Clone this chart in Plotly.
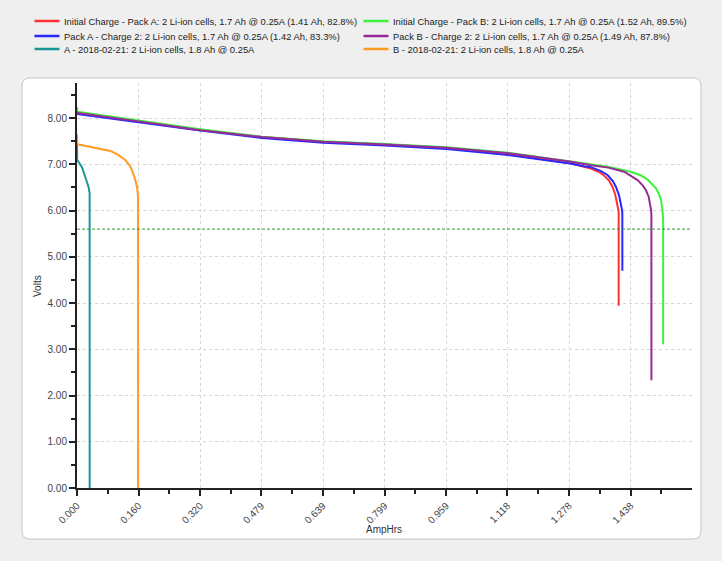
import plotly.graph_objects as go

# ---------------- data ----------------
SERIES_NAMES = [
    "Initial Charge - Pack A: 2 Li-ion cells, 1.7 Ah @ 0.25A (1.41 Ah, 82.8%)",
    "Initial Charge - Pack B: 2 Li-ion cells, 1.7 Ah @ 0.25A (1.52 Ah, 89.5%)",
    "Pack A - Charge 2: 2 Li-ion cells, 1.7 Ah @ 0.25A (1.42 Ah, 83.3%)",
    "Pack B - Charge 2: 2 Li-ion cells, 1.7 Ah @ 0.25A (1.49 Ah, 87.8%)",
    "A - 2018-02-21: 2 Li-ion cells, 1.8 Ah @ 0.25A",
    "B - 2018-02-21: 2 Li-ion cells, 1.8 Ah @ 0.25A",
]
SERIES_COLORS = ["#ff3030", "#3cf03c", "#2828ff", "#982a98", "#1a9696", "#ff9a26"]

red_x = [0, 0.001, 0.16, 0.32, 0.48, 0.64, 0.80, 0.96, 1.12, 1.28, 1.317, 1.335, 1.355,
         1.369, 1.382, 1.391, 1.398, 1.403, 1.406, 1.407, 1.4071]
red_y = [8.15, 8.12, 7.93, 7.75, 7.59, 7.49, 7.43, 7.35, 7.22, 7.03, 6.95, 6.91, 6.84,
         6.76, 6.65, 6.51, 6.35, 6.18, 6.02, 5.95, 3.94]

green_x = [0, 0.001, 0.16, 0.32, 0.48, 0.64, 0.80, 0.96, 1.12, 1.28, 1.335, 1.38, 1.438,
           1.465, 1.482, 1.495, 1.504, 1.512, 1.517, 1.520, 1.521, 1.5226, 1.5227]
green_y = [8.24, 8.14, 7.95, 7.76, 7.60, 7.50, 7.44, 7.37, 7.25, 7.07, 7.01, 6.95, 6.84,
           6.76, 6.67, 6.57, 6.48, 6.35, 6.23, 6.05, 5.87, 5.82, 3.11]

blue_x = [0, 0.001, 0.16, 0.32, 0.48, 0.64, 0.80, 0.96, 1.12, 1.28, 1.317, 1.335, 1.36,
          1.378, 1.392, 1.400, 1.408, 1.413, 1.416, 1.4165, 1.4166]
blue_y = [8.13, 8.09, 7.91, 7.73, 7.57, 7.47, 7.41, 7.33, 7.20, 7.02, 6.96, 6.94, 6.86,
          6.77, 6.64, 6.51, 6.33, 6.16, 6.00, 5.95, 4.70]

purple_x = [0, 0.001, 0.16, 0.32, 0.48, 0.64, 0.80, 0.96, 1.12, 1.28, 1.335, 1.38, 1.421,
            1.438, 1.456, 1.470, 1.478, 1.485, 1.489, 1.491, 1.492, 1.4921]
purple_y = [8.14, 8.11, 7.93, 7.74, 7.59, 7.49, 7.43, 7.36, 7.24, 7.06, 6.98, 6.93, 6.84,
            6.76, 6.66, 6.54, 6.44, 6.30, 6.16, 6.02, 5.92, 2.33]

teal_x = [0, 0.0005, 0.006, 0.013, 0.017, 0.0216, 0.027, 0.030, 0.0328, 0.0329]
teal_y = [7.45, 7.09, 7.03, 6.94, 6.84, 6.73, 6.60, 6.51, 6.38, 0.0]

orange_x = [0, 0.0005, 0.004, 0.035, 0.061, 0.087, 0.108, 0.126, 0.139, 0.149, 0.156,
            0.1586, 0.1587]
orange_y = [7.65, 7.45, 7.43, 7.38, 7.33, 7.29, 7.20, 7.09, 6.95, 6.73, 6.51, 6.30, 0.0]

SERIES_X = [red_x, green_x, blue_x, purple_x, teal_x, orange_x]
SERIES_Y = [red_y, green_y, blue_y, purple_y, teal_y, orange_y]

X_TICK_LABELS = ["0.000", "0.160", "0.320", "0.479", "0.639", "0.799",
                 "0.959", "1.118", "1.278", "1.438"]
X_MAX = 1.5975
Y_MAX = 8.76
THRESHOLD_V = 5.6

# ---------------- layout constants ----------------
W, H = 722, 561
ML, MR, MT, MB = 77, 30, 83, 73
PW, PH = W - ML - MR, H - MT - MB
FONT = "Liberation Sans, Arial, sans-serif"


def px_x(px):
    return (px - ML) / PW


def px_y(py):
    return (H - MB - py) / PH


fig = go.Figure()

for name, color, xs, ys in zip(SERIES_NAMES, SERIES_COLORS, SERIES_X, SERIES_Y):
    fig.add_trace(go.Scatter(x=xs, y=ys, mode="lines", name=name,
                             line=dict(color=color, width=2), showlegend=False))

# threshold line and its marker
fig.add_trace(go.Scatter(x=[0, X_MAX], y=[THRESHOLD_V, THRESHOLD_V], mode="lines",
                         line=dict(color="#2e9a2e", width=1, dash="3px,2px"),
                         showlegend=False, hoverinfo="skip"))
fig.add_trace(go.Scatter(x=[-0.0156], y=[THRESHOLD_V], mode="markers",
                         marker=dict(symbol="triangle-right", size=7, color="#1e8c1e"),
                         cliponaxis=False, showlegend=False, hoverinfo="skip"))

# white rounded panel
x0, x1 = px_x(22), px_x(701)
y0, y1 = px_y(539), px_y(78)
rx, ry = 8 / PW, 8 / PH
path = (f"M {x0+rx},{y1} L {x1-rx},{y1} Q {x1},{y1} {x1},{y1-ry} "
        f"L {x1},{y0+ry} Q {x1},{y0} {x1-rx},{y0} L {x0+rx},{y0} "
        f"Q {x0},{y0} {x0},{y0+ry} L {x0},{y1-ry} Q {x0},{y1} {x0+rx},{y1} Z")
shapes = [dict(type="path", path=path, xref="paper", yref="paper",
               fillcolor="white", line=dict(color="#c4c4c4", width=1), layer="below")]

# manual legend (two columns)
annotations = []
col_x = [34.5, 363.5]
row_y = [21, 36, 49]
for i, (name, color) in enumerate(zip(SERIES_NAMES, SERIES_COLORS)):
    r, c = i // 2, i % 2
    lx = col_x[c]
    ly = row_y[r]
    shapes.append(dict(type="line", xref="paper", yref="paper",
                       x0=px_x(lx), x1=px_x(lx + 25), y0=px_y(ly), y1=px_y(ly),
                       line=dict(color=color, width=2.5)))
    annotations.append(dict(text=name, xref="paper", yref="paper",
                            x=px_x(lx + 27), y=px_y(ly), xanchor="left", yanchor="middle",
                            showarrow=False, font=dict(family=FONT, size=9.4, color="#222")))

# axis titles
annotations.append(dict(text="AmpHrs", xref="paper", yref="paper", x=px_x(384), y=px_y(529),
                        xanchor="center", yanchor="middle", showarrow=False,
                        font=dict(family=FONT, size=10, color="#333")))
annotations.append(dict(text="Volts", xref="paper", yref="paper", x=px_x(37), y=px_y(286),
                        xanchor="center", yanchor="middle", showarrow=False, textangle=-90,
                        font=dict(family=FONT, size=10, color="#333")))

axis_common = dict(showline=True, linecolor="#222", linewidth=2, ticks="outside",
                   tickcolor="#222", tickwidth=2, ticklen=6, zeroline=False,
                   showgrid=True, gridcolor="#d6d6d6", gridwidth=1, griddash="3px,3px",
                   tickfont=dict(family=FONT, size=10, color="#444"))

minor_x = [(float(X_TICK_LABELS[i]) + (float(X_TICK_LABELS[i + 1]) if i + 1 < len(X_TICK_LABELS)
            else 2 * float(X_TICK_LABELS[i]) - float(X_TICK_LABELS[i - 1]))) / 2
           for i in range(len(X_TICK_LABELS))]

fig.update_layout(
    width=W, height=H,
    margin=dict(l=ML, r=MR, t=MT, b=MB),
    paper_bgcolor="#efefef", plot_bgcolor="white",
    font=dict(family=FONT, size=10, color="#333"),
    shapes=shapes, annotations=annotations,
    xaxis=dict(range=[0, X_MAX], tickmode="array",
               tickvals=[float(t) for t in X_TICK_LABELS], ticktext=X_TICK_LABELS,
               tickangle=-45,
               minor=dict(tickmode="array", tickvals=minor_x, ticklen=4, tickwidth=2,
                          tickcolor="#222", showgrid=False),
               **axis_common),
    yaxis=dict(range=[0, Y_MAX], tickmode="linear", tick0=0, dtick=1, tickformat=".2f",
               minor=dict(dtick=0.5, ticklen=4, tickwidth=2, tickcolor="#222",
                          showgrid=False),
               **axis_common),
)

fig.write_html("out.html", config={"displayModeBar": False},
               post_script="document.body.style.margin='0';document.body.style.overflow='hidden';")
